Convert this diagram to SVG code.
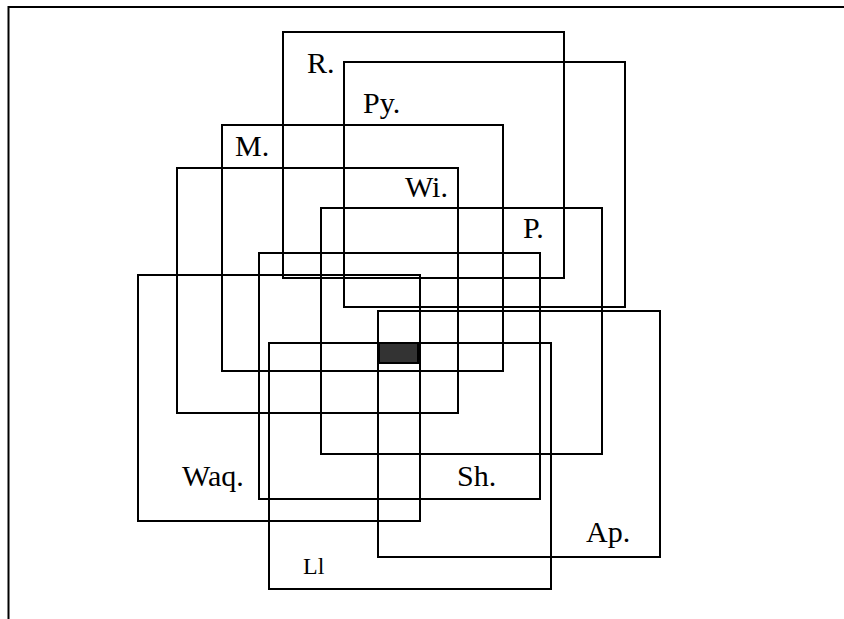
<svg xmlns="http://www.w3.org/2000/svg" width="844" height="619" viewBox="0 0 844 619">
<style>
.box{fill:none;stroke:#000;stroke-width:2}
.lbl{font-family:"Liberation Serif","Times New Roman",serif;font-size:30px;fill:#000}
.small{font-size:24px}
.frame{fill:none;stroke:#000;stroke-width:2}
</style>
<rect width="844" height="619" fill="#fff"/>
<path class="frame" d="M844 7H8.5V619"/>
<g id="R"><rect class="box" x="283" y="32" width="281" height="246"/><text class="lbl" x="307" y="73">R.</text></g>
<g id="Py"><rect class="box" x="344" y="62" width="281" height="245"/><text class="lbl" x="363" y="113">Py.</text></g>
<g id="M"><rect class="box" x="222" y="125" width="281" height="246"/><text class="lbl" x="235" y="156">M.</text></g>
<g id="Wi"><rect class="box" x="177" y="168" width="281" height="245"/><text class="lbl" x="405" y="197">Wi.</text></g>
<g id="P"><rect class="box" x="321" y="208" width="281" height="246"/><text class="lbl" x="523" y="238">P.</text></g>
<g id="Sh"><rect class="box" x="259" y="253" width="281" height="246"/><text class="lbl" x="457" y="486">Sh.</text></g>
<g id="Waq"><rect class="box" x="138" y="275" width="282" height="246"/><text class="lbl" x="182" y="486">Waq.</text></g>
<g id="Ap"><rect class="box" x="378" y="311" width="282" height="246"/><text class="lbl" x="586" y="542">Ap.</text></g>
<g id="Ll"><rect class="box" x="269" y="343" width="282" height="246"/><text class="lbl small" x="303" y="574">Ll</text></g>
<g id="center"><rect x="379" y="343" width="39" height="20" fill="#333" stroke="#000" stroke-width="2"/></g>
<g id="connectors"></g>
</svg>
